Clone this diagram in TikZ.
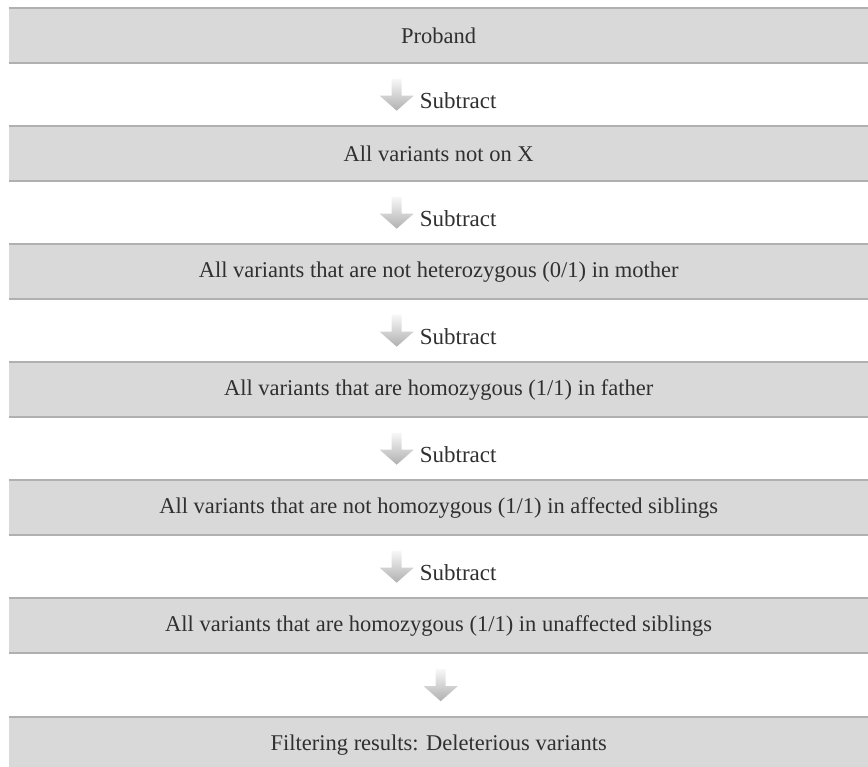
\documentclass[tikz,border=0pt]{standalone}
\usepackage{fontspec}
\setmainfont{Liberation Serif}
\usetikzlibrary{positioning,calc}
\definecolor{boxfill}{HTML}{D9D9D9}
\definecolor{boxline}{HTML}{B0B0B0}
\definecolor{txtgray}{HTML}{303030}

\tikzset{
  stepbox/.style={fill=boxfill, anchor=north west, minimum width=859, minimum height=55,
    inner sep=0pt, text=txtgray, font=\fontsize{22.5}{26}\selectfont},
  edgeline/.style={draw=boxline, line width=2pt},
  sublabel/.style={anchor=west, inner sep=0pt, text=txtgray, font=\fontsize{23}{26}\selectfont},
  downarr/.pic={
    \shade [top color=gray!6, bottom color=gray!62]
      (-5,16) -- (5,16) -- (5,-1) -- (17,-1) -- (0,-16) -- (-17,-1) -- (-5,-1) -- cycle;
  }
}

\begin{document}
\begin{tikzpicture}[x=1pt,y=1pt,yscale=-1]
\useasboundingbox (0,0) rectangle (868,767);

% Boxes
\node [stepbox] (proband)    at (9,8)   {Proband};
\node [stepbox] (notx)       at (9,126) {All variants not on X};
\node [stepbox] (mother)     at (9,244) {All variants that are not heterozygous (0/1) in mother};
\node [stepbox] (father)     at (9,362) {All variants that are homozygous (1/1) in father};
\node [stepbox] (affected)   at (9,480) {All variants that are not homozygous (1/1) in affected siblings};
\node [stepbox] (unaffected) at (9,598) {All variants that are homozygous (1/1) in unaffected siblings};
\node [stepbox] (result)     at (9,717) {Filtering results: Deleterious variants};

\foreach \b in {proband,notx,mother,father,affected,unaffected}{
  \draw [edgeline] (\b.north west) -- (\b.north east);
  \draw [edgeline] (\b.south west) -- (\b.south east);
}
\draw [edgeline] (result.north west) -- (result.north east);

% Arrows
\foreach \a/\b/\n in {proband/notx/g1,notx/mother/g2,mother/father/g3,father/affected/g4,affected/unaffected/g5}{
  \coordinate (\n) at ($(\a.south)!0.5!(\b.north)+(-42,0)$);
  \pic at (\n) {downarr};
  \node [sublabel] at ($(\n)+(23,6)$) {Subtract};
}
\coordinate (g6) at ($(unaffected.south)!0.5!(result.north)+(2,0)$);
\pic at (g6) {downarr};

\end{tikzpicture}
\end{document}
